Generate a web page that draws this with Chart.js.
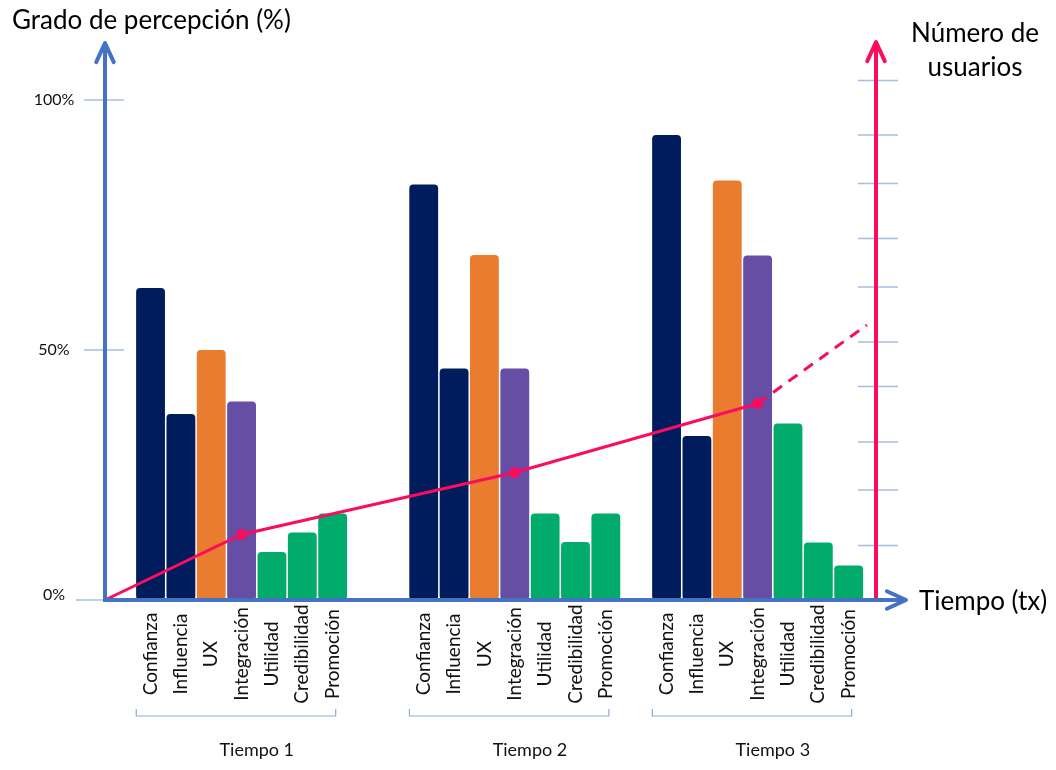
<!DOCTYPE html>
<html lang="es">
<head>
<meta charset="utf-8">
<title>Grado de percepción y número de usuarios</title>
<script src="https://cdn.jsdelivr.net/npm/chart.js@4"></script>
<style>
  html, body { margin: 0; padding: 0; background: #fff; }
  #wrap { width: 1056px; height: 770px; }
</style>
</head>
<body>
<div id="wrap"><canvas id="chart" width="1056" height="770"></canvas></div>
<script>
// ── Data ──────────────────────────────────────────────────────────────────────

const CATEGORIES = ['Confianza', 'Influencia', 'UX', 'Integración', 'Utilidad', 'Credibilidad', 'Promoción'];
const GROUPS = ['Tiempo 1', 'Tiempo 2', 'Tiempo 3'];
// first bar of each group on the time axis (one unit per bar)
const GROUP_START = [1.5, 10.5, 18.5];

const TIEMPO_1 = [62.4, 37.2, 50.0, 39.7, 9.6, 13.5, 17.3];
const TIEMPO_2 = [83.1, 46.3, 69.0, 46.3, 17.3, 11.6, 17.3];
const TIEMPO_3 = [93.0, 32.8, 83.9, 68.9, 35.3, 11.5, 6.9];

// number of users (right axis), last point is the projection (dashed)
const USERS_T = [0, 4.5, 13.5, 21.5, 25.1];
const USERS_N = [0, 13.1, 25.5, 39.3, 55.0];

const PCT_TICKS = [0, 50, 100];
const PCT_LABELS = ['0%', '50%', '100%'];
const USER_TICKS = [10.9, 22.0, 31.6, 42.7, 51.6, 62.6, 72.3, 83.3, 93.0, 103.9];

// ── Style ─────────────────────────────────────────────────────────────────────

const NAVY = '#011C5C';
const ORANGE = '#EA7C30';
const PURPLE = '#654EA3';
const GREEN = '#00AB6B';
const RED = '#F90D5F';
const AXIS_BLUE = '#4472C4';
const TICK_BLUE = '#A7BDE3';
const FONT = 'Lato, "Open Sans", sans-serif';

const CAT_COLORS = [NAVY, NAVY, ORANGE, PURPLE, GREEN, GREEN, GREEN];

// ── Build datasets ───────────────────────────────────────────────────────────

const series = [TIEMPO_1, TIEMPO_2, TIEMPO_3];
const barPoints = [];
const barColors = [];
series.forEach((vals, g) => {
  vals.forEach((v, i) => {
    barPoints.push({ x: GROUP_START[g] + i, y: v });
    barColors.push(CAT_COLORS[i]);
  });
});

const userPoints = USERS_T.map((t, i) => ({ x: t, y: USERS_N[i] }));
const lastIdx = userPoints.length - 1;

// ── Drawing helpers ──────────────────────────────────────────────────────────

function seg(ctx, x1, y1, x2, y2) {
  ctx.beginPath();
  ctx.moveTo(x1, y1);
  ctx.lineTo(x2, y2);
  ctx.stroke();
}

function arrow(ctx, x1, y1, x2, y2, color) {
  const ang = Math.atan2(y2 - y1, x2 - x1);
  const len = 21, spread = 0.43;
  ctx.strokeStyle = color;
  ctx.lineWidth = 4;
  ctx.lineCap = 'butt';
  seg(ctx, x1, y1, x2, y2);
  ctx.lineCap = 'round';
  ctx.lineJoin = 'round';
  ctx.beginPath();
  ctx.moveTo(x2 - len * Math.cos(ang - spread), y2 - len * Math.sin(ang - spread));
  ctx.lineTo(x2, y2);
  ctx.lineTo(x2 - len * Math.cos(ang + spread), y2 - len * Math.sin(ang + spread));
  ctx.stroke();
}

const decorations = {
  id: 'decorations',
  afterDatasetsDraw(chart) {
    const { ctx, chartArea: a, scales: { x, y } } = chart;
    const y0 = y.getPixelForValue(0);
    ctx.save();

    // left ticks + labels
    ctx.strokeStyle = TICK_BLUE;
    ctx.lineWidth = 1.5;
    ctx.fillStyle = '#111';
    ctx.font = `16px ${FONT}`;
    ctx.textAlign = 'center';
    ctx.textBaseline = 'middle';
    PCT_TICKS.forEach((v, i) => {
      const py = y.getPixelForValue(v);
      seg(ctx, a.left - (v === 0 ? 29 : 21), py, a.left + (v === 0 ? 0 : 19), py);
      ctx.fillText(PCT_LABELS[i], a.left - 51, py - (v === 0 ? 5 : 0));
    });

    // right ticks
    USER_TICKS.forEach(v => {
      const py = y.getPixelForValue(v);
      seg(ctx, a.right - 18, py, a.right + 22, py);
    });

    // axes
    arrow(ctx, a.right, y0, a.right, a.top - 8, RED);
    arrow(ctx, a.left, y0 + 2, a.left, a.top - 7, AXIS_BLUE);
    arrow(ctx, a.left - 2, y0, a.right + 30, y0, AXIS_BLUE);

    // category labels (rotated), brackets, group names
    const unit = x.getPixelForValue(1) - x.getPixelForValue(0);
    ctx.fillStyle = '#111';
    GROUPS.forEach((name, g) => {
      ctx.font = `19px ${FONT}`;
      CATEGORIES.forEach((c, i) => {
        const px = x.getPixelForValue(GROUP_START[g] + i);
        ctx.save();
        ctx.translate(px, y0 + 54);
        ctx.rotate(-Math.PI / 2);
        ctx.textAlign = 'center';
        ctx.textBaseline = 'middle';
        ctx.fillText(c, 0, 0);
        ctx.restore();
      });
      const bx1 = x.getPixelForValue(GROUP_START[g]) - unit * 0.47;
      const bx2 = x.getPixelForValue(GROUP_START[g] + CATEGORIES.length - 1) + unit * 0.1;
      const by = y0 + 116;
      ctx.strokeStyle = '#8EA9DB';
      ctx.lineWidth = 1.2;
      ctx.lineCap = 'butt';
      ctx.beginPath();
      ctx.moveTo(bx1, by - 7);
      ctx.lineTo(bx1, by);
      ctx.lineTo(bx2, by);
      ctx.lineTo(bx2, by - 7);
      ctx.stroke();
      ctx.font = `18px ${FONT}`;
      ctx.textAlign = 'center';
      ctx.fillText(name, x.getPixelForValue(GROUP_START[g] + 3.5), y0 + 150);
    });

    // axis titles
    ctx.fillStyle = '#000';
    ctx.font = `26px ${FONT}`;
    ctx.textAlign = 'left';
    ctx.textBaseline = 'middle';
    ctx.fillText('Grado de percepción (%)', 12, 21);
    ctx.fillText('Tiempo (tx)', a.right + 43, y0 + 2);
    ctx.textAlign = 'center';
    ctx.fillText('Número de', 975, 34);
    ctx.fillText('usuarios', 975, 68);

    ctx.restore();
  }
};

// ── Chart ─────────────────────────────────────────────────────────────────────

new Chart(document.getElementById('chart').getContext('2d'), {
  data: {
    datasets: [
      {
        type: 'line',
        label: 'Número de usuarios',
        data: userPoints,
        yAxisID: 'y2',
        borderColor: RED,
        backgroundColor: RED,
        borderWidth: 3,
        tension: 0,
        clip: false,
        order: 0,
        pointRadius: userPoints.map((p, i) => (i === 0 || i === lastIdx ? 0 : 5.5)),
        pointBorderWidth: 0,
        segment: {
          borderDash: ctx => (ctx.p1DataIndex === lastIdx ? [11, 8] : undefined),
        },
      },
      {
        type: 'bar',
        label: 'Grado de percepción',
        data: barPoints,
        backgroundColor: barColors,
        borderWidth: 0,
        borderRadius: 4,
        borderSkipped: false,
        categoryPercentage: 1,
        barPercentage: 0.95,
        order: 1,
      },
    ],
  },
  options: {
    responsive: false,
    animation: false,
    devicePixelRatio: 1,
    layout: { padding: { left: 105, right: 180, top: 50, bottom: 170 } },
    plugins: {
      legend: { display: false },
      tooltip: { enabled: false },
    },
    scales: {
      x: {
        type: 'linear',
        min: 0,
        max: 25.4,
        offset: false,
        display: false,
        ticks: { stepSize: 1, includeBounds: false },
      },
      y: { min: 0, max: 110, display: false },
      y2: { min: 0, max: 110, display: false, position: 'right' },
    },
  },
  plugins: [decorations],
});
</script>
</body>
</html>
